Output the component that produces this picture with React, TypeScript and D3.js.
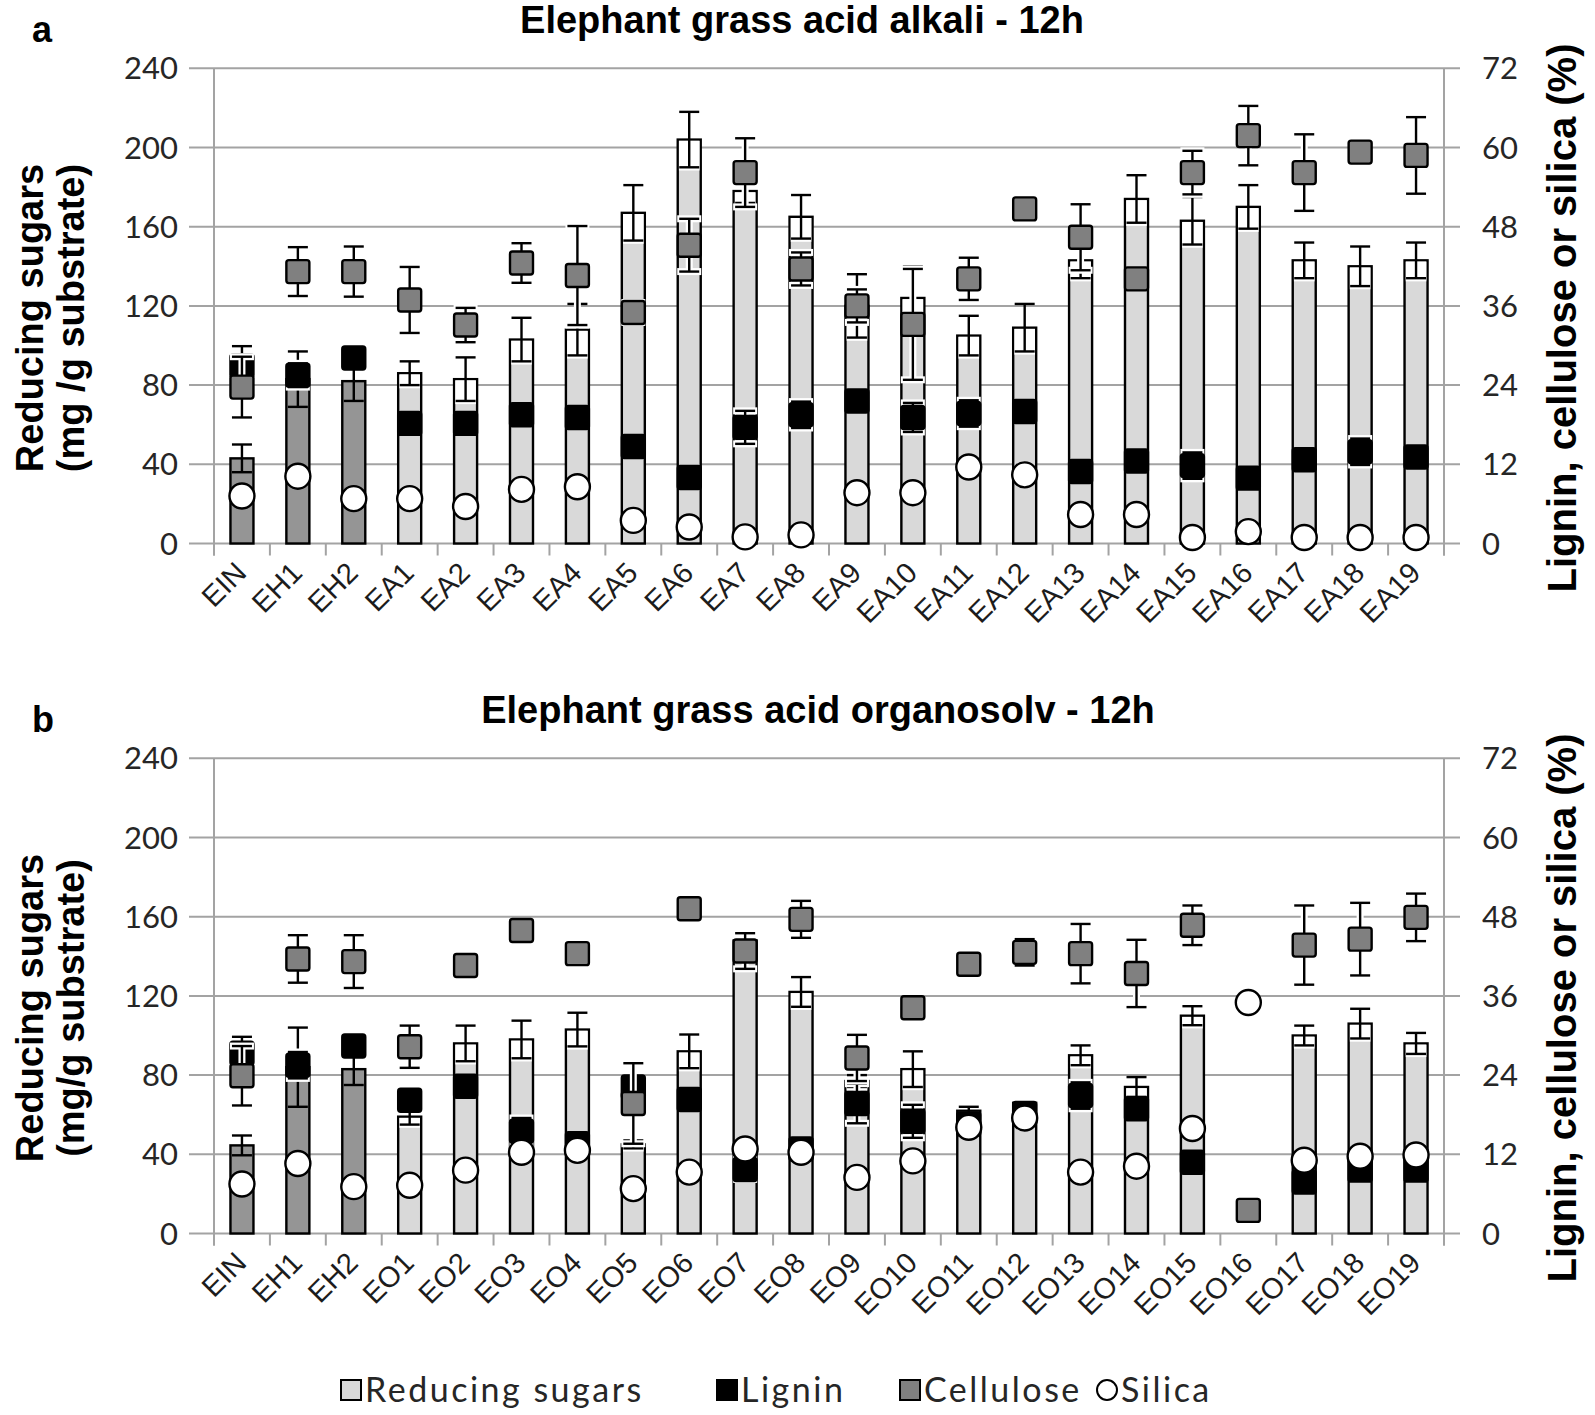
import React from "react";
import * as d3 from "d3";

// ---------- DATA ----------
const categoriesA = ["EIN","EH1","EH2","EA1","EA2","EA3","EA4","EA5","EA6","EA7","EA8","EA9","EA10","EA11","EA12","EA13","EA14","EA15","EA16","EA17","EA18","EA19"];
const categoriesB = ["EIN","EH1","EH2","EO1","EO2","EO3","EO4","EO5","EO6","EO7","EO8","EO9","EO10","EO11","EO12","EO13","EO14","EO15","EO16","EO17","EO18","EO19"];

// panel a (reducing sugars, mg/g substrate; lignin/cellulose/silica, %)
const sugarsA = [43, 83, 82, 86, 83, 103, 108, 167, 204, 178, 165, 120, 124, 105, 109, 143, 174, 163, 170, 143, 140, 143];
const sugarsErrA = [7, 14, 10, 6, 11, 11, 13, 14, 14, 6, 11, 16, 16, 10, 12, 9, 12, 12, 11, 9, 10, 9];
const ligninA = [26.9, 25.5, 28.1, 18.2, 18.2, 19.5, 19.1, 14.7, 10.0, 17.6, 19.5, 21.6, 19.1, 19.7, 20.0, 10.9, 12.5, 11.8, 9.9, 12.7, 13.9, 13.1];
const ligninErrA = [3, 1.8, 0, 0, 0, 0, 0, 0, 0, 2.5, 2, 0, 2.2, 2, 0, 0, 0, 2, 0, 0, 2, 0];
const celluloseA = [23.7, 41.2, 41.2, 36.9, 33.1, 42.5, 40.6, 35.0, 45.2, 56.2, 41.6, 36.0, 33.2, 40.1, 50.7, 46.4, 40.1, 56.2, 61.8, 56.2, 59.3, 58.8];
const celluloseErrA = [4.6, 3.7, 3.8, 5, 2.6, 3, 7.5, 1.5, 4, 5.2, 2.5, 2.5, 8.4, 3.2, 0, 5, 1, 3.3, 4.5, 5.8, 0, 5.8];
const silicaA = [7.2, 10.2, 6.8, 6.8, 5.6, 8.2, 8.6, 3.5, 2.5, 1.0, 1.3, 7.7, 7.7, 11.6, 10.4, 4.4, 4.4, 0.9, 1.8, 0.9, 0.9, 0.9];

// panel b
const sugarsB = [44.5, 84, 83, 59, 96, 98, 103, 45, 92, 148, 122, 77, 83, 62, 66, 90, 74, 110, 0, 100, 106, 96];
const sugarsErrB = [5, 20, 8, 4, 9, 9.5, 8.5, 2, 8.5, 3, 7.5, 3, 9, 2, 0, 5, 5, 4.8, 0, 5, 7.5, 5.3];
const ligninB: (number | null)[] = [27.3, 25.5, 28.4, 20.2, 22.3, 15.5, 13.6, 22.2, 20.3, 9.7, 12.8, 19.7, 17.0, 16.6, 18.2, 20.9, 18.9, 10.8, null, 7.8, 9.6, 9.6];
const ligninErrB = [2.5, 2, 0, 0, 0, 2, 0, 0, 0, 1.5, 0, 3, 2.5, 0, 0, 2, 0, 0, 0, 0, 0, 0];
const celluloseB = [23.9, 41.6, 41.2, 28.3, 40.6, 45.9, 42.4, 19.7, 49.2, 42.8, 47.6, 26.6, 34.2, 40.8, 42.6, 42.4, 39.4, 46.7, 3.5, 43.7, 44.6, 47.9];
const celluloseErrB = [4.5, 3.6, 4, 3.2, 0, 0.8, 0, 6.1, 0, 2.7, 2.8, 3.5, 0, 0, 2, 4.5, 5.1, 3, 1.5, 6, 5.5, 3.6];
const silicaB = [7.5, 10.6, 7.1, 7.3, 9.6, 12.3, 12.6, 6.8, 9.3, 12.8, 12.3, 8.5, 11.0, 16.1, 17.5, 9.3, 10.2, 15.9, 35.0, 11.1, 11.7, 11.9];

const leftTicks = [0, 40, 80, 120, 160, 200, 240];
const rightTicks = [0, 12, 24, 36, 48, 60, 72];
const controlCount = 3; // EIN, EH1, EH2 drawn in darker grey

const titleA = "Elephant grass acid alkali - 12h";
const titleB = "Elephant grass acid organosolv - 12h";
const yTitleA = "(mg /g substrate)";
const yTitleB = "(mg/g substrate)";

const legendLabels = ["Reducing sugars", "Lignin", "Cellulose", "Silica"];

// ---------- STYLE ----------
const GRID = "#a3a3a3";
const LIGHT = "#d9d9d9";
const DARKBAR = "#959595";
const CELL = "#808080";
const INK = "#1c1c1c";
const SANS = "'Liberation Sans', Arial, sans-serif";
const TICKFONT = "Lato, 'Open Sans', sans-serif";

const X0 = 214, X1 = 1444;
const BAR_W = 23, CAP = 20, MK = 23, SW = 2.4;

type PanelProps = {
  dy: number; cats: string[]; sugars: number[]; sugarsErr: number[];
  lignin: (number | null)[]; ligninErr: number[]; cellulose: number[]; celluloseErr: number[];
  silica: number[]; title: string; titleX: number; letter: string; yTitle2: string;
};

function ErrBar({ cx, yHi, yLo, glow }: { cx: number; yHi: number; yLo: number; glow: boolean }) {
  return (
    <g>
      {glow && (
        <g stroke="#fff" strokeWidth={7}>
          <line x1={cx} x2={cx} y1={yHi} y2={yLo} />
          <line x1={cx - CAP / 2 - 2} x2={cx + CAP / 2 + 2} y1={yHi} y2={yHi} />
          <line x1={cx - CAP / 2 - 2} x2={cx + CAP / 2 + 2} y1={yLo} y2={yLo} />
        </g>
      )}
      <g stroke="#000" strokeWidth={SW}>
        <line x1={cx} x2={cx} y1={yHi} y2={yLo} />
        <line x1={cx - CAP / 2} x2={cx + CAP / 2} y1={yHi} y2={yHi} />
        <line x1={cx - CAP / 2} x2={cx + CAP / 2} y1={yLo} y2={yLo} />
      </g>
    </g>
  );
}

function Panel(p: PanelProps) {
  const x = d3.scaleBand<string>().domain(p.cats).range([X0, X1]).paddingInner(0).paddingOuter(0);
  const bw = x.bandwidth();
  const cxOf = (c: string) => (x(c) as number) + bw / 2;
  const yL = d3.scaleLinear().domain([0, 240]).range([543.5 + p.dy, 68.3 + p.dy]);
  const yR = d3.scaleLinear().domain([0, 72]).range([543.5 + p.dy, 68.3 + p.dy]);
  const y0 = yL(0);
  const boundaries = d3.range(p.cats.length + 1).map((i) => X0 + i * bw);

  return (
    <g>
      {/* grid */}
      {leftTicks.map((t) => (
        <line key={"g" + t} x1={189} x2={1460} y1={yL(t)} y2={yL(t)} stroke={GRID} strokeWidth={2} />
      ))}
      <line x1={X0} x2={X0} y1={yL(240)} y2={y0 + 12} stroke={GRID} strokeWidth={2} />
      <line x1={X1} x2={X1} y1={yL(240)} y2={y0 + 12} stroke={GRID} strokeWidth={2} />
      {boundaries.map((b, i) => (
        <line key={"t" + i} x1={b} x2={b} y1={y0} y2={y0 + 12} stroke={GRID} strokeWidth={2} />
      ))}
      {/* tick labels */}
      {leftTicks.map((t) => (
        <text key={"l" + t} x={178} y={yL(t)} dy="0.36em" textAnchor="end" fontFamily={TICKFONT} fontSize={31} fill="#262626">{t}</text>
      ))}
      {rightTicks.map((t) => (
        <text key={"r" + t} x={1482} y={yR(t)} dy="0.36em" textAnchor="start" fontFamily={TICKFONT} fontSize={31} fill="#262626">{t}</text>
      ))}
      {/* category labels */}
      {p.cats.map((c) => (
        <text key={"c" + c} transform={`translate(${cxOf(c) + 6},${y0 + 31}) rotate(-45)`} textAnchor="end"
          fontFamily={SANS} fontSize={29} fill={INK}>{c}</text>
      ))}
      {/* bars */}
      {p.cats.map((c, i) => {
        const v = p.sugars[i];
        if (!v) return null;
        const cx = cxOf(c);
        return (
          <rect key={"b" + c} x={cx - BAR_W / 2} y={yL(v)} width={BAR_W} height={y0 - yL(v)}
            fill={i < controlCount ? DARKBAR : LIGHT} stroke="#000" strokeWidth={SW} />
        );
      })}
      {/* bar error bars */}
      {p.cats.map((c, i) => {
        const v = p.sugars[i], e = p.sugarsErr[i];
        if (!v || !e) return null;
        const cx = cxOf(c);
        const light = i >= controlCount;
        return (
          <g key={"be" + c}>
            {light && (
              <rect x={cx - BAR_W / 2 + SW / 2} y={yL(v) + SW / 2} width={BAR_W - SW}
                height={Math.max(0, yL(v - e) - yL(v) + 2)} fill="#fff" />
            )}
            <ErrBar cx={cx} yHi={yL(v + e)} yLo={yL(v - e)} glow={false} />
          </g>
        );
      })}
      {/* lignin */}
      {p.cats.map((c, i) => {
        const v = p.lignin[i];
        if (v == null) return null;
        const e = p.ligninErr[i];
        const cx = cxOf(c);
        return (
          <g key={"lg" + c}>
            {e > 0 && <ErrBar cx={cx} yHi={yR(v + e)} yLo={yR(v - e)} glow={true} />}
            <rect x={cx - MK / 2} y={yR(v) - MK / 2} width={MK} height={MK} rx={2.5} fill="#000" stroke="#000" strokeWidth={SW} />
          </g>
        );
      })}
      {/* cellulose */}
      {p.cats.map((c, i) => {
        const v = p.cellulose[i];
        const e = p.celluloseErr[i];
        const cx = cxOf(c);
        return (
          <g key={"ce" + c}>
            {e > 0 && <ErrBar cx={cx} yHi={yR(v + e)} yLo={yR(v - e)} glow={true} />}
            <rect x={cx - MK / 2} y={yR(v) - MK / 2} width={MK} height={MK} rx={2.5} fill={CELL} stroke="#000" strokeWidth={SW} />
          </g>
        );
      })}
      {/* silica */}
      {p.cats.map((c, i) => (
        <circle key={"si" + c} cx={cxOf(c)} cy={yR(p.silica[i])} r={12.5} fill="#fff" stroke="#000" strokeWidth={SW} />
      ))}
      {/* titles */}
      <text x={p.titleX} y={33 + p.dy} textAnchor="middle" fontFamily={SANS} fontWeight="bold" fontSize={38} fill="#000">{p.title}</text>
      <text x={32} y={42 + p.dy} fontFamily={SANS} fontWeight="bold" fontSize={36} fill="#000">{p.letter}</text>
      <text transform={`translate(43,${318 + p.dy}) rotate(-90)`} textAnchor="middle" fontFamily={SANS} fontWeight="bold" fontSize={38} fill="#000">Reducing sugars</text>
      <text transform={`translate(84,${318 + p.dy}) rotate(-90)`} textAnchor="middle" fontFamily={SANS} fontWeight="bold" fontSize={38} fill="#000">{p.yTitle2}</text>
      <text transform={`translate(1576,${318 + p.dy}) rotate(-90)`} textAnchor="middle" fontFamily={SANS} fontWeight="bold" fontSize={40} fill="#000">Lignin, cellulose or silica (%)</text>
    </g>
  );
}

const legendLayout = [
  { kind: "bar", x: 351 },
  { kind: "lignin", x: 727 },
  { kind: "cell", x: 910 },
  { kind: "silica", x: 1107 },
];

export default function App() {
  const ly = 1390;
  return (
    <svg width={1595} height={1415} viewBox="0 0 1595 1415" style={{ position: "absolute", left: 0, top: 0, background: "#fff" }}>
      <rect width={1595} height={1415} fill="#fff" />
      <Panel dy={0} cats={categoriesA} sugars={sugarsA} sugarsErr={sugarsErrA} lignin={ligninA} ligninErr={ligninErrA}
        cellulose={celluloseA} celluloseErr={celluloseErrA} silica={silicaA} title={titleA} titleX={802} letter="a" yTitle2={yTitleA} />
      <Panel dy={690} cats={categoriesB} sugars={sugarsB} sugarsErr={sugarsErrB} lignin={ligninB} ligninErr={ligninErrB}
        cellulose={celluloseB} celluloseErr={celluloseErrB} silica={silicaB} title={titleB} titleX={818} letter="b" yTitle2={yTitleB} />
      {legendLayout.map((it, i) => (
        <g key={legendLabels[i]}>
          {it.kind === "silica" ? (
            <circle cx={it.x} cy={ly} r={10} fill="#fff" stroke="#000" strokeWidth={2} />
          ) : (
            <rect x={it.x - 10} y={ly - 10} width={20} height={20}
              fill={it.kind === "bar" ? LIGHT : it.kind === "lignin" ? "#000" : CELL} stroke="#000" strokeWidth={2} />
          )}
          <text x={it.x + 14} y={ly} dy="0.36em" fontFamily={TICKFONT} fontSize={34} letterSpacing={2.5} fill="#262626">{legendLabels[i]}</text>
        </g>
      ))}
    </svg>
  );
}
